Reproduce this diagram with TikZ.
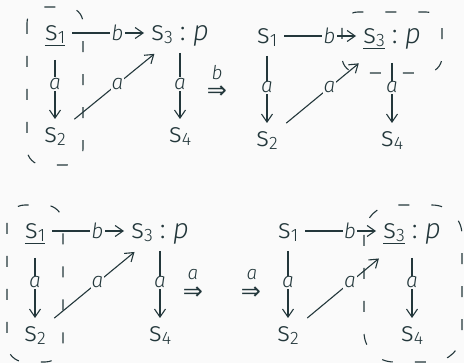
\documentclass[tikz,border=0pt]{standalone}
\usepackage{fontspec}
\setmainfont{Fira Sans}[UprightFont={* Light},ItalicFont={* Light Italic}]
\newfontfamily\arrfont{DejaVu Sans}
\usetikzlibrary{arrows.meta,calc}
\definecolor{fg}{HTML}{23373B}
\definecolor{bg}{HTML}{FAFAFA}
\newcommand\sbs[1]{\raisebox{-3pt}{\fontsize{18}{18}\selectfont #1}}
\newcommand\sv[1]{s\sbs{#1}}
\newcommand\colp{\hspace{7pt}:\hspace{7pt}\textit{p}}
\newcommand\impl{\smash{⇒}}
\begin{document}
\begin{tikzpicture}[x=1pt,y=1pt,
  every node/.style={text=fg, font=\fontsize{28}{32}\selectfont},
  st/.style={inner xsep=7pt, inner ysep=0pt, anchor=base},
  lbl/.style={fill=bg, inner sep=1pt, font=\fontsize{21}{22}\selectfont\itshape},
  tlbl/.style={inner sep=0pt, font=\fontsize{19}{20}\selectfont\itshape},
  arr/.style={draw=fg, line width=1.1pt, -{Straight Barb[length=8pt,width=11pt]}},
  blob/.style={draw=fg, line width=1.1pt, dash pattern=on 11pt off 22pt},
  imp/.style={inner sep=0pt, anchor=base, font=\fontsize{24}{26}\arrfont}]
\fill[bg] (0,0) rectangle (464,-363);
\path[use as bounding box] (0,0) rectangle (464,-363);

% ---------- diagram 1 ----------
\draw[blob, rounded corners=16pt] (27,-7) rectangle (83,-165);
\node[st] (a1) at (55,-41) {\underline{\sv{1}}};
\node[st] (a3) at (180,-41) {\sv{3}\colp};
\node[st] (a2) at (55,-143) {\sv{2}};
\node[st] (a4) at (180,-143) {\sv{4}};
\draw[arr] ([yshift=8pt]a1.base east) -- ([yshift=8pt]a3.base west);
\draw[arr] ([yshift=-19pt]a1.base) -- ([yshift=24pt]a2.base);
\draw[arr] ([yshift=-12pt]a3.base) -- ([yshift=24pt]a4.base);
\draw[arr, shorten <=25pt, shorten >=33pt] ([yshift=8pt]a2.base) -- ([yshift=8pt]a3.base);
\node[lbl] (la13) at ($(a1.base)!0.5!(a3.base)+(0,8)$) {b};
\node[lbl] (la12) at ($(a1.base)!0.5!(a2.base)+(0,8)$) {a};
\node[lbl] (la23) at ($(a2.base)!0.5!(a3.base)+(0,8)$) {a};
\node[lbl] (la34) at ($(a3.base)!0.5!(a4.base)+(0,8)$) {a};
\node[imp] (r1) at (217,-99) {\impl};
\node[tlbl] (r1l) at (217,-73) {b};

% ---------- diagram 2 ----------
\draw[blob, rounded corners=16pt] (342,-12) rectangle (442,-73);
\node[st] (b1) at (267,-44) {\sv{1}};
\node[st] (b3) at (392,-44) {\underline{\sv{3}}\colp};
\node[st] (b2) at (267,-147) {\sv{2}};
\node[st] (b4) at (392,-147) {\sv{4}};
\draw[arr] ([yshift=8pt]b1.base east) -- ([yshift=8pt]b3.base west);
\draw[arr] ([yshift=-12pt]b1.base) -- ([yshift=24pt]b2.base);
\draw[arr] ([yshift=-19pt]b3.base) -- ([yshift=24pt]b4.base);
\draw[arr, shorten <=25pt, shorten >=43pt] ([yshift=8pt]b2.base) -- ([yshift=8pt]b3.base);
\node[lbl] (lb13) at ($(b1.base)!0.5!(b3.base)+(0,8)$) {b};
\node[lbl] (lb12) at ($(b1.base)!0.5!(b2.base)+(0,8)$) {a};
\node[lbl] (lb23) at ($(b2.base)!0.5!(b3.base)+(0,8)$) {a};
\node[lbl] (lb34) at ($(b3.base)!0.5!(b4.base)+(0,8)$) {a};

% ---------- diagram 3 ----------
\draw[blob, rounded corners=18pt] (7,-205) rectangle (63,-362);
\node[st] (c1) at (35,-239) {\underline{\sv{1}}};
\node[st] (c3) at (160,-239) {\sv{3}\colp};
\node[st] (c2) at (35,-342) {\sv{2}};
\node[st] (c4) at (160,-342) {\sv{4}};
\draw[arr] ([yshift=8pt]c1.base east) -- ([yshift=8pt]c3.base west);
\draw[arr] ([yshift=-19pt]c1.base) -- ([yshift=24pt]c2.base);
\draw[arr] ([yshift=-12pt]c3.base) -- ([yshift=24pt]c4.base);
\draw[arr, shorten <=25pt, shorten >=33pt] ([yshift=8pt]c2.base) -- ([yshift=8pt]c3.base);
\node[lbl] (lc13) at ($(c1.base)!0.5!(c3.base)+(0,8)$) {b};
\node[lbl] (lc12) at ($(c1.base)!0.5!(c2.base)+(0,8)$) {a};
\node[lbl] (lc23) at ($(c2.base)!0.5!(c3.base)+(0,8)$) {a};
\node[lbl] (lc34) at ($(c3.base)!0.5!(c4.base)+(0,8)$) {a};
\node[imp] (r3) at (193,-300) {\impl};
\node[tlbl] (r3l) at (193,-275) {a};

% ---------- diagram 4 ----------
\node[imp] (r4) at (251,-300) {\impl};
\node[tlbl] (r4l) at (252,-275) {a};
\draw[blob, rounded corners=30pt] (364,-205) rectangle (462,-362);
\node[st] (d1) at (288,-239) {\sv{1}};
\node[st] (d3) at (412,-239) {\underline{\sv{3}}\colp};
\node[st] (d2) at (288,-342) {\sv{2}};
\node[st] (d4) at (412,-342) {\sv{4}};
\draw[arr] ([yshift=8pt]d1.base east) -- ([yshift=8pt]d3.base west);
\draw[arr] ([yshift=-12pt]d1.base) -- ([yshift=24pt]d2.base);
\draw[arr] ([yshift=-19pt]d3.base) -- ([yshift=24pt]d4.base);
\draw[arr, shorten <=25pt, shorten >=43pt] ([yshift=8pt]d2.base) -- ([yshift=8pt]d3.base);
\node[lbl] (ld13) at ($(d1.base)!0.5!(d3.base)+(0,8)$) {b};
\node[lbl] (ld12) at ($(d1.base)!0.5!(d2.base)+(0,8)$) {a};
\node[lbl] (ld23) at ($(d2.base)!0.5!(d3.base)+(0,8)$) {a};
\node[lbl] (ld34) at ($(d3.base)!0.5!(d4.base)+(0,8)$) {a};
\end{tikzpicture}
\end{document}
